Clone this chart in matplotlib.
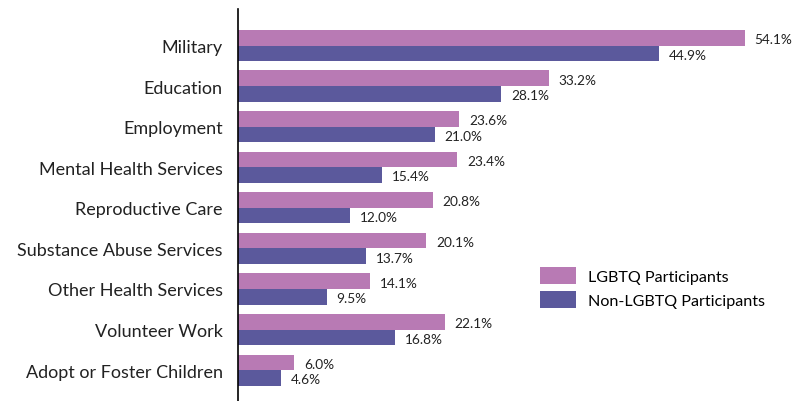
import numpy as np
import matplotlib.pyplot as plt

plt.rcParams['font.family'] = ['Lato', 'DejaVu Sans']

categories = ['Military', 'Education', 'Employment', 'Mental Health Services',
              'Reproductive Care', 'Substance Abuse Services', 'Other Health Services',
              'Volunteer Work', 'Adopt or Foster Children']
lgbtq = [54.1, 33.2, 23.6, 23.4, 20.8, 20.1, 14.1, 22.1, 6.0]
non_lgbtq = [44.9, 28.1, 21.0, 15.4, 12.0, 13.7, 9.5, 16.8, 4.6]

pink = '#b87ab4'
purple = '#5b599c'

W, H = 802, 402
fig = plt.figure(figsize=(W / 100, H / 100), dpi=100)
ax = fig.add_axes([238 / W, 0, (785 - 238) / W, (H - 10) / H])

y = np.arange(len(categories))
h = 0.385
b1 = ax.barh(y - h / 2, lgbtq, height=h, color=pink, label='LGBTQ Participants')
b2 = ax.barh(y + h / 2, non_lgbtq, height=h, color=purple, label='Non-LGBTQ Participants')

for bars, vals in ((b1, lgbtq), (b2, non_lgbtq)):
    for bar, v in zip(bars, vals):
        ax.annotate(f'{v:.1f}%', (v, bar.get_y() + bar.get_height() / 2),
                    xytext=(7, -1), textcoords='offset points',
                    ha='left', va='center', fontsize=9.8, color='#222222')

ax.set_yticks(y)
ax.set_yticklabels(categories, fontsize=13, color='#222222')
ax.tick_params(axis='y', length=0, pad=11)
ax.set_xticks([])
ax.set_xlim(0, (785 - 238) / 9.37)
ax.set_ylim(8.76, -0.9)

for s in ('top', 'right', 'bottom'):
    ax.spines[s].set_visible(False)
ax.spines['left'].set_linewidth(1.2)
ax.spines['left'].set_color('black')

fig.legend(handles=[b1, b2], loc='upper left', bbox_to_anchor=(540 / W, 1 - 268 / H),
           frameon=False, fontsize=11.6, handlelength=2.24, handleheight=1.24,
           handletextpad=0.75, labelspacing=0.43, borderpad=0, borderaxespad=0)

fig.savefig('out.png', dpi=100)
